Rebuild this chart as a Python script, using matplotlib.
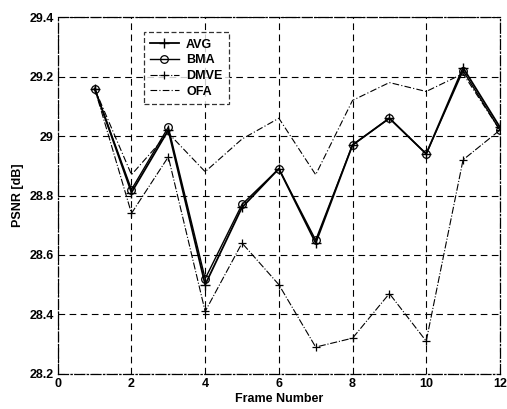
import numpy as np
import matplotlib.pyplot as plt
from matplotlib.ticker import FuncFormatter

frames = [1, 2, 3, 4, 5, 6, 7, 8, 9, 10, 11, 12]
avg = [29.16, 28.81, 29.02, 28.50, 28.76, 28.89, 28.64, 28.97, 29.06, 28.94, 29.23, 29.03]
bma = [29.16, 28.82, 29.03, 28.52, 28.77, 28.89, 28.65, 28.97, 29.06, 28.94, 29.22, 29.02]
dmve = [29.16, 28.74, 28.93, 28.41, 28.64, 28.50, 28.29, 28.32, 28.47, 28.31, 28.92, 29.02]
ofa = [29.16, 28.87, 29.01, 28.88, 28.99, 29.06, 28.87, 29.12, 29.18, 29.15, 29.21, 29.02]

plt.rcParams['font.family'] = ['Liberation Sans', 'DejaVu Sans']
plt.rcParams['font.weight'] = 'bold'

fig = plt.figure(figsize=(5.07, 4.09), dpi=100)
ax = fig.add_axes([0.114, 0.086, 0.872, 0.872])

ax.plot(frames, avg, color='black', lw=1.3, marker='+', ms=7, mew=1.0, label='AVG')
ax.plot(frames, bma, color='black', lw=1.0, marker='o', ms=5.5, mfc='none', mew=0.9, label='BMA')
ax.plot(frames, dmve, color='black', lw=0.8, ls='-.', marker='+', ms=6, mew=0.9, label='DMVE')
ax.plot(frames, ofa, color='black', lw=0.8, ls=(0, (6, 2, 1, 2)), label='OFA')

ax.set_xlim(0, 12)
ax.set_ylim(28.2, 29.4)
ax.set_xticks(np.arange(0, 13, 2))
ax.set_yticks(np.arange(28.2, 29.41, 0.2))
ax.yaxis.set_major_formatter(FuncFormatter(lambda v, p: '%g' % round(v, 1)))
ax.grid(True, color='black', ls=(0, (6, 4)), lw=0.8)
ax.tick_params(labelsize=9, length=0, pad=3)
for s in ax.spines.values():
    s.set_linestyle((0, (8, 2, 1, 2)))
    s.set_linewidth(0.9)

ax.set_xlabel('Frame Number', fontsize=9, fontweight='bold', labelpad=2)
ax.set_ylabel('PSNR [dB]', fontsize=9, fontweight='bold', labelpad=4)

leg = ax.legend(loc='upper left', bbox_to_anchor=(0.18, 0.975), fontsize=9,
                frameon=True, fancybox=False, edgecolor='black', handlelength=2.3,
                borderpad=0.5, labelspacing=0.3, handletextpad=0.6)
leg.get_frame().set_linestyle((0, (4, 2)))
leg.get_frame().set_linewidth(0.9)

fig.savefig('out.png', dpi=100)
